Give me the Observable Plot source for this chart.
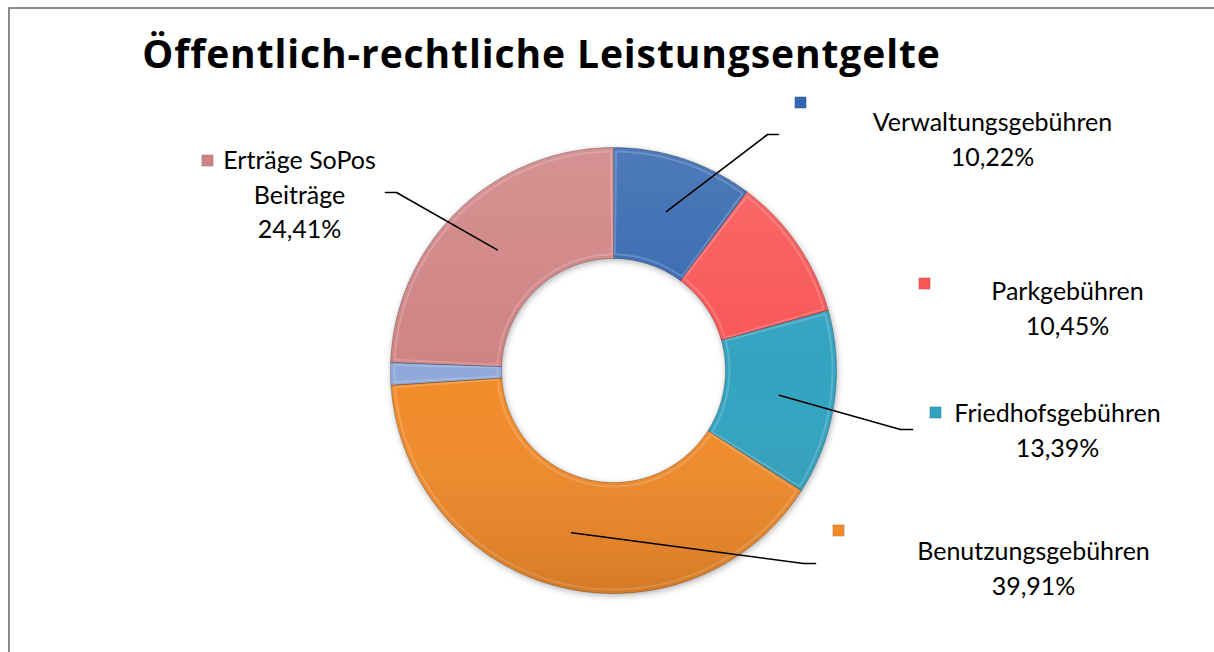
<!DOCTYPE html>
<html><head><meta charset="utf-8">
<script src="https://cdn.jsdelivr.net/npm/d3@7"></script>
<script src="https://cdn.jsdelivr.net/npm/@observablehq/plot@0.6"></script>
<style>html,body{margin:0;padding:0;background:#fff;overflow:hidden}</style>
</head><body><div id="chart"></div>
<script>
// ---- data ----
const title = "Öffentlich-rechtliche Leistungsentgelte";
const categories = ["Verwaltungsgebühren","Parkgebühren","Friedhofsgebühren","Benutzungsgebühren","Sonstige","Erträge SoPos Beiträge"];
const shares = [10.22, 10.45, 13.39, 39.91, 1.62, 24.41];
const labelNames = [["Verwaltungsgebühren"],["Parkgebühren"],["Friedhofsgebühren"],["Benutzungsgebühren"],null,["Erträge SoPos","Beiträge"]];
const colors = ["#3568b0","#f95656","#30a3c0","#f28b2a","#8fa9da","#d08383"];

// ---- layout (pixels) ----
const W = 1214, H = 652;
const donut = {cx: 613, cy: 370, R: 223, r: 112};
const labelPos = [[992,137],[1067,306],[1057,428],[1033,566],null,[299,192]];
const squarePos = [[800,102],[924,283],[935,412],[838,530],null,[207,160]];
const leaderBends = [[[767,134],[778,134]], null, [[900,429],[912,429]], [[803,563],[815,563]], null, [[396,192],[385,192]]];

const total = d3.sum(shares);
let acc = 0;
const slices = categories.map((c, i) => {
  const a0 = acc / total * 2 * Math.PI; acc += shares[i];
  const a1 = acc / total * 2 * Math.PI;
  return {category: c, share: shares[i], a0, a1, mid: (a0 + a1) / 2};
});
const pt = (a, rad) => [donut.cx + rad * Math.sin(a), donut.cy - rad * Math.cos(a)];
function sector(a0, a1, R, r) {
  const n = Math.max(2, Math.ceil((a1 - a0) / 0.01));
  const outer = d3.range(n + 1).map(k => pt(a0 + (a1 - a0) * k / n, R));
  const inner = d3.range(n + 1).map(k => pt(a1 - (a1 - a0) * k / n, r));
  return {type: "Polygon", coordinates: [[...outer, ...inner, outer[0]]]};
}
const sliceFeatures = slices.map(s => ({type: "Feature", properties: s, geometry: sector(s.a0, s.a1, donut.R, donut.r)}));
const bevelFeatures = slices.map(s => ({type: "Feature", properties: s, geometry: sector(s.a0 + 0.012, s.a1 - 0.012, donut.R - 4, donut.r + 4)}));
const ringFeature = {type: "Feature", properties: {}, geometry: sector(0, 2 * Math.PI - 1e-6, donut.R, donut.r)};

const fmt = v => v.toFixed(2).replace(".", ",") + "%";
const labels = slices.map((s, i) => labelNames[i] ? {category: s.category, x: labelPos[i][0], y: labelPos[i][1], text: [...labelNames[i], fmt(s.share)].join("\n")} : null).filter(d => d);
const squares = slices.map((s, i) => squarePos[i] ? {category: s.category, x: squarePos[i][0], y: squarePos[i][1]} : null).filter(d => d);
const leaders = slices.map((s, i) => leaderBends[i] ? {type: "Feature", properties: {}, geometry: {type: "LineString", coordinates: [pt(s.mid, (donut.R + donut.r) / 2), ...leaderBends[i]]}} : null).filter(d => d);
const frame = {type: "LineString", coordinates: [[8.5, H], [8.5, 7.5], [W, 7.5]]};

const font = "Lato, 'Open Sans', sans-serif";
const chart = Plot.plot({
  width: W, height: H, margin: 0,
  projection: {type: "identity", domain: {type: "Polygon", coordinates: [[[0,0],[W,0],[W,H],[0,H],[0,0]]]}},
  color: {type: "ordinal", domain: categories, range: colors},
  style: {fontFamily: font, background: "#fff"},
  marks: [
    Plot.geo(frame, {stroke: "#8a8a8a", strokeWidth: 2}),
    Plot.geo(sliceFeatures, {fill: d => d.properties.category, stroke: "#00000040", strokeWidth: 1}),
    Plot.geo(bevelFeatures, {fill: "none", stroke: "#ffffff", strokeOpacity: 0.18, strokeWidth: 2}),
    Plot.geo(ringFeature, {fill: "url(#shade)", stroke: "none"}),
    Plot.geo(leaders, {stroke: "#000", strokeWidth: 1.6}),
    Plot.dot(squares, {x: "x", y: "y", symbol: "square", r: 6.4, fill: "category", stroke: "#00000040", strokeWidth: 0.5}),
    Plot.text(labels, {x: "x", y: "y", text: "text", fontSize: 25, lineHeight: 1.38, textAnchor: "middle", fill: "#000"}),
    Plot.text([title], {x: () => 541, y: () => 55, text: d => d, fontSize: 39, fontFamily: "'Open Sans', sans-serif", fontWeight: "bold", textAnchor: "middle", fill: "#000"})
  ]
});
const defs = document.createElementNS("http://www.w3.org/2000/svg", "defs");
defs.innerHTML = `<linearGradient id="shade" gradientUnits="userSpaceOnUse" x1="0" y1="${donut.cy - donut.R}" x2="0" y2="${donut.cy + donut.R}">
  <stop offset="0" stop-color="#fff" stop-opacity="0.12"/>
  <stop offset="0.5" stop-color="#fff" stop-opacity="0"/>
  <stop offset="1" stop-color="#000" stop-opacity="0.12"/></linearGradient>
  <filter id="shadow" x="-10%" y="-10%" width="120%" height="120%"><feDropShadow dx="1" dy="2" stdDeviation="3" flood-color="#000" flood-opacity="0.3"/></filter>`;
chart.insertBefore(defs, chart.firstChild);
const geos = chart.querySelectorAll("g[aria-label='geo']");
if (geos[1]) geos[1].setAttribute("filter", "url(#shadow)");
const texts = chart.querySelectorAll("g[aria-label='text']");
if (texts[1]) texts[1].setAttribute("letter-spacing", "0.9");
document.getElementById("chart").appendChild(chart);
</script>
</body></html>
